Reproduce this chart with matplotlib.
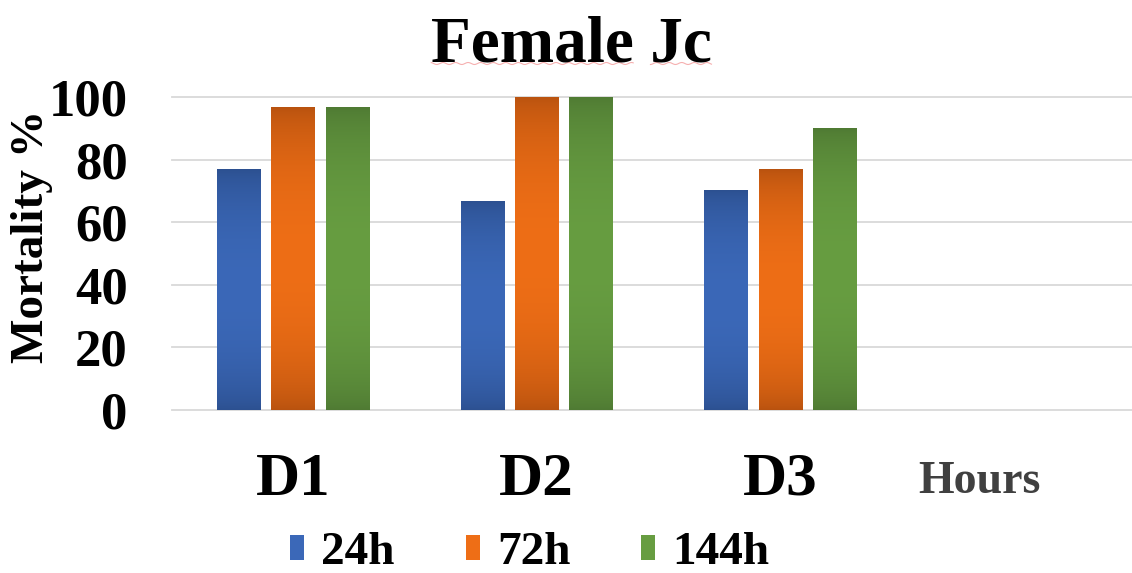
import numpy as np
import matplotlib
matplotlib.use('Agg')
import matplotlib.pyplot as plt
from matplotlib.patches import Patch
from matplotlib.lines import Line2D
from matplotlib.colors import to_rgb

plt.rcParams['font.family'] = ['Liberation Serif', 'DejaVu Serif']
plt.rcParams['font.weight'] = 'bold'

doses = ['D1', 'D2', 'D3', '']
series = ['24h', '72h', '144h']
mort_24h = [76.7, 66.7, 70.0]
mort_72h = [96.7, 100.0, 76.7]
mort_144h = [96.7, 100.0, 90.0]

# (edge colour, centre colour) for the shaded bars
shades = [('#2c5090', '#3b68b8'), ('#b8520f', '#ee6e16'), ('#4f7a33', '#679d41')]

fig = plt.figure(figsize=(11.32, 5.73), dpi=100)
ax = fig.add_axes([172 / 1132, 163 / 573, 1.0 - 172 / 1132, 313 / 573])

x = np.arange(len(doses))
width = 0.177
step = 0.222


def shade(c0, c1, n=256):
    s = np.linspace(0, 1, n)
    t = (1 - (2 * s - 1) ** 2) ** 0.7
    a, b = np.array(to_rgb(c0)), np.array(to_rgb(c1))
    return (a + (b - a) * t[:, None])[:, None, :]


for i, (vals, (c0, c1)) in enumerate(zip([mort_24h, mort_72h, mort_144h], shades)):
    bars = ax.bar(x[:3] + (i - 1) * step, vals, width, color=c1, zorder=2)
    img = shade(c0, c1)
    for b in bars:
        ax.imshow(img, extent=[b.get_x(), b.get_x() + b.get_width(), 0, b.get_height()],
                  aspect='auto', origin='lower', zorder=3, interpolation='bilinear')

ax.set_xlim(-0.497, 3.445)
ax.set_ylim(0, 100)
ax.set_yticks(range(0, 101, 20))
ax.set_xticks(x)
ax.set_xticklabels(doses)
ax.tick_params(axis='y', labelsize=38, length=0, pad=32)
ax.tick_params(axis='x', labelsize=44, length=0, pad=30)
ax.grid(axis='y', color='#d9d9d9', linewidth=1.3, zorder=0)
for gl in ax.get_ygridlines():
    gl.set_clip_on(False)
for sp in ax.spines.values():
    sp.set_visible(False)

ax.set_ylabel('Mortality %', fontsize=34, fontweight='bold', va='center')
ax.yaxis.set_label_coords(-0.146, 0.553)

fig.text(979 / 1132, 80 / 573, 'Hours', fontsize=33, color='#404040',
         ha='center', va='baseline')

title = fig.text(0.505, 511 / 573, 'Female Jc', fontsize=47, ha='center', va='baseline')

# wavy underline beneath each word of the title
fig.canvas.draw()
r = fig.canvas.get_renderer()
tb = title.get_window_extent(r)
w1 = fig.text(0, 0, 'Female', fontsize=47).get_window_extent(r).width
w2 = fig.text(0, 0, 'Female ', fontsize=47).get_window_extent(r).width
for t in fig.texts[-2:]:
    t.remove()
for a, b in [(tb.x0, tb.x0 + w1), (tb.x0 + w2, tb.x1)]:
    px = np.arange(a, b, 1.0)
    py = (511 - 1.5) + 1.0 * np.sin(px / 2.0)
    fig.add_artist(Line2D(px / 1132, py / 573, color='#f6b0b0', lw=0.8,
                          transform=fig.transFigure))

handles = [Patch(facecolor=c1, edgecolor='none') for c0, c1 in shades]
fig.legend(handles, series, loc='lower center', bbox_to_anchor=(0.468, -0.035),
           ncol=3, frameon=False, fontsize=34, handlelength=0.3, handleheight=0.45,
           handletextpad=0.36, columnspacing=1.5, borderaxespad=0)

fig.savefig('out.png', dpi=100)
